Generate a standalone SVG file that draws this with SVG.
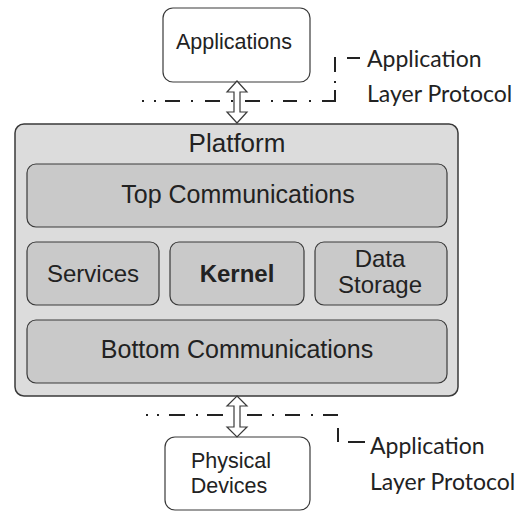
<svg xmlns="http://www.w3.org/2000/svg" width="520" height="511" viewBox="0 0 520 511">
<style>
.box{fill:#ffffff;stroke:#3a3a3a;stroke-width:1.2}
.outer{fill:#dcdcdc;stroke:#3a3a3a;stroke-width:1.5}
.inner{fill:#c9c9c9;stroke:#3a3a3a;stroke-width:1.2}
.lbl{font-family:"Liberation Sans",Arial,sans-serif;fill:#222;text-anchor:middle}
.cal{font-family:Lato,"Open Sans",sans-serif;fill:#222;font-size:23px}
.dash{stroke:#222;stroke-width:2;fill:none}
.arrow{fill:#ffffff;stroke:#3a3a3a;stroke-width:1.2}
</style>
<g id="applications">
<rect class="box" x="163" y="8" width="147" height="74" rx="10"/>
<text class="lbl" x="234" y="49" font-size="21.5">Applications</text>
</g>
<g id="platform">
<rect class="outer" x="15" y="124" width="443" height="272" rx="9"/>
<text class="lbl" x="237" y="152" font-size="26">Platform</text>
</g>
<g id="top-communications">
<rect class="inner" x="27" y="164" width="420" height="63" rx="9"/>
<text class="lbl" x="238" y="203" font-size="25">Top Communications</text>
</g>
<g id="services">
<rect class="inner" x="27" y="242" width="132" height="63" rx="9"/>
<text class="lbl" x="93" y="282" font-size="24">Services</text>
</g>
<g id="kernel">
<rect class="inner" x="170" y="242" width="134" height="63" rx="9"/>
<text class="lbl" x="237" y="282" font-size="24" font-weight="bold">Kernel</text>
</g>
<g id="data-storage">
<rect class="inner" x="315" y="242" width="132" height="63" rx="9"/>
<text class="lbl" x="380" y="267" font-size="24">Data</text>
<text class="lbl" x="380" y="293" font-size="24">Storage</text>
</g>
<g id="bottom-communications">
<rect class="inner" x="27" y="320" width="420" height="63" rx="9"/>
<text class="lbl" x="237" y="358" font-size="25">Bottom Communications</text>
</g>
<g id="physical-devices">
<rect class="box" x="165" y="437" width="145" height="73" rx="10"/>
<text class="lbl" x="231" y="468" font-size="21.5">Physical</text>
<text class="lbl" x="229" y="493" font-size="21.5">Devices</text>
</g>
<g id="protocol-labels">
<text class="cal" x="367" y="67">Application</text>
<text class="cal" x="367" y="102">Layer Protocol</text>
<text class="cal" x="370" y="454">Application</text>
<text class="cal" x="370" y="490">Layer Protocol</text>
</g>
<g id="connectors">
<path class="dash" d="M142,101h2M154,101h2M165,101h15M191,101h2M205,101h15M231,101h2M245,101h15M271,101h2M283,101h14M309,101h2M322,101h13v-11M335,83v-2M335,72v-15M347,58h13"/>
<path class="dash" d="M146,415h2M157,415h2M169,415h16M196,415h2M207,415h16M235,415h2M247,415h15M272,415h2M285,415h15M311,415h2M323,415h15M338,428v14M348,442h17"/>
<polygon class="arrow" points="237,81 247,92 240,92 240,112 247,112 237,123 227,112 234,112 234,92 227,92"/>
<polygon class="arrow" points="237,396 247,406 240,406 240,427 247,427 237,437 227,427 234,427 234,406 227,406"/>
</g>
</svg>
